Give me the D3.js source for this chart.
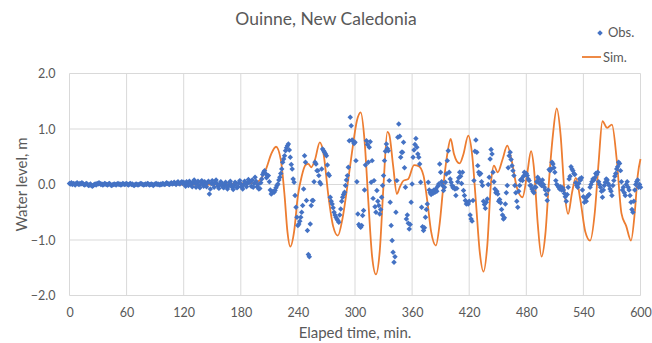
<!DOCTYPE html>
<html>
<head>
<meta charset="utf-8">
<script src="https://cdn.jsdelivr.net/npm/d3@7/dist/d3.min.js"></script>
<style>
  html, body { margin: 0; padding: 0; background: #fff; }
  svg { display: block; font-family: Lato, "Open Sans", sans-serif; }
</style>
</head>
<body>
<svg id="chart" width="652" height="343"></svg>
<script>
// Observed water level (m), one reading per minute, 0 … 600 min
const obsEarly = [
  0.02,0.01,0.03,0.00,0.02,0.01,-0.01,0.02,0.03,0.01,
  0.00,0.02,0.01,0.03,0.02,0.00,-0.01,0.01,0.02,0.00,
  -0.02,-0.01,0.01,-0.02,-0.03,-0.02,0.00,0.01,-0.01,0.02,
  0.01,0.03,0.02,0.00,0.01,-0.01,0.00,0.02,0.01,0.00,
  -0.01,0.01,0.02,0.00,-0.02,-0.01,0.00,0.01,0.00,-0.01,
  0.01,0.02,0.00,0.01,-0.01,0.00,0.02,0.01,0.00,0.01,
  0.02,0.00,-0.01,0.01,0.02,0.00,0.01,-0.01,-0.02,0.00,
  0.01,0.00,-0.01,0.00,0.01,0.02,0.01,0.00,-0.01,0.00,
  0.01,0.00,0.02,0.01,-0.01,0.00,0.01,0.00,-0.02,0.00,
  0.01,0.02,0.00,0.01,0.00,-0.01,0.01,0.00,0.02,0.01,
  0.00,0.01,0.03,0.02,0.01,0.00,0.02,0.03,0.01,0.02,
  0.04,0.02,0.00,0.03,0.05,0.02,0.01,0.03,0.05,0.02,
  0.04,0.01,-0.03,0.05,0.02,-0.02,0.06,0.03,0.00,-0.04,
  0.05,0.08,0.02,-0.05,0.03,0.06,-0.02,-0.06,0.04,0.07,
  0.00,-0.03,0.05,0.02,-0.04,0.03,0.06,-0.17,-0.08,0.02,
  0.07,0.01,-0.05,0.03,0.08,0.02,-0.03,-0.07,0.00,0.05,
  0.02,-0.04,-0.06,0.01,0.04,-0.02,-0.08,-0.03,0.03,0.06,
  0.00,-0.05,-0.09,-0.02,0.04,0.02,-0.06,-0.04,0.03,0.07,
  0.01,-0.05,-0.08,0.00,0.06,0.03,-0.04,0.02,0.09,0.04
];
const obsLate = [
  0.05,-0.03,0.08,-0.05,0.02,0.13,0.06,-0.04,0.00,-0.08,
  -0.07,0.03,0.10,0.18,0.22,0.25,0.20,0.12,0.16,0.16,
  0.05,-0.10,-0.17,-0.15,-0.12,-0.14,-0.11,-0.06,-0.02,0.01,
  0.08,0.13,0.20,0.28,0.40,0.46,0.52,0.61,0.66,0.70,
  0.73,0.62,0.49,0.36,0.28,0.10,0.04,-0.20,-0.41,-0.59,
  -0.74,-0.71,-0.66,-0.59,-0.50,-0.38,-0.08,0.52,0.40,-0.29,
  -0.83,-1.26,-1.30,-0.71,-0.38,-0.29,-0.29,0.05,0.40,0.37,
  0.25,0.25,0.16,0.04,0.01,0.28,0.64,0.61,0.58,0.55,
  0.52,0.35,0.19,0.16,-0.23,-0.30,-0.35,-0.42,-0.50,-0.55,
  -0.59,-0.62,-0.65,-0.68,-0.55,-0.44,-0.30,-0.23,-0.18,-0.14,
  -0.02,0.08,0.16,0.31,0.79,1.21,1.06,0.80,0.78,0.74,
  0.76,0.43,0.05,-0.53,-0.72,-0.75,-0.77,-0.74,-0.56,-0.47,
  -0.10,0.35,0.79,0.72,0.40,0.67,0.77,0.04,0.43,-0.25,
  0.07,-0.40,-0.50,-0.11,-0.30,-0.38,-0.53,-0.45,-0.23,-0.02,
  0.16,0.43,0.60,0.73,0.65,0.61,0.07,-0.32,-0.74,-1.01,
  -1.22,-1.40,-1.30,-0.50,0.07,0.85,1.09,0.87,0.49,0.58,
  0.58,0.76,0.30,-0.05,-0.62,-0.55,-0.70,-0.80,-0.72,-0.32,
  0.01,0.49,0.62,0.72,0.83,0.67,0.55,0.49,0.37,0.04,
  -0.41,-0.76,-0.83,-0.78,-0.59,-0.45,-0.35,0.04,-0.10,-0.15,
  -0.18,-0.12,-0.16,-0.10,-0.14,-0.08,-0.12,-0.03,0.01,0.37,
  0.22,0.05,-0.02,-0.11,-0.05,0.04,0.19,0.43,0.61,0.22,
  0.10,0.04,-0.02,-0.06,-0.05,-0.08,-0.20,-0.07,0.05,0.12,
  0.22,0.15,0.02,0.22,-0.11,-0.20,-0.29,-0.35,-0.33,-0.35,
  -0.30,-0.55,-0.62,-0.66,-0.29,0.07,0.60,0.80,0.58,0.34,
  0.22,0.18,0.20,0.05,-0.02,-0.30,-0.36,-0.43,-0.32,-0.26,
  0.00,0.13,0.46,0.63,0.55,0.22,0.05,-0.08,-0.15,-0.12,
  -0.17,-0.30,-0.27,-0.33,-0.45,-0.55,-0.62,-0.60,-0.35,-0.15,
  -0.02,0.30,0.52,0.58,0.45,0.34,0.25,0.16,-0.02,-0.15,
  -0.30,-0.41,-0.12,-0.02,0.08,0.10,0.07,0.15,0.22,0.18,
  0.20,0.16,0.10,0.07,-0.02,-0.02,-0.08,-0.12,-0.15,-0.05,
  -0.05,0.05,0.13,0.10,0.02,0.04,-0.02,0.08,0.00,-0.05,
  -0.10,-0.18,-0.29,-0.10,0.27,0.25,0.28,0.40,0.37,0.30,
  0.22,0.07,0.00,-0.02,-0.05,-0.08,-0.04,-0.10,-0.06,-0.10,
  -0.16,-0.22,-0.30,-0.18,-0.05,0.10,0.15,0.32,0.28,0.25,
  0.20,0.18,0.03,-0.02,-0.05,0.02,0.10,0.08,0.12,-0.10,
  -0.22,-0.32,-0.25,-0.30,-0.22,-0.20,-0.18,-0.05,0.00,0.05,
  0.10,0.08,0.12,0.20,0.18,0.22,0.05,0.00,-0.05,-0.12,
  -0.23,-0.10,-0.02,0.04,0.10,0.08,0.02,-0.02,-0.08,-0.12,
  -0.20,-0.02,0.07,0.15,0.20,0.28,0.32,0.40,0.38,0.25,
  0.05,-0.10,-0.05,-0.15,-0.20,0.00,0.05,-0.05,-0.10,-0.20,
  -0.32,-0.45,-0.50,-0.30,-0.10,0.00,0.05,0.08,-0.05,0.00,
  -0.05
];
const obsLevel = obsEarly.concat(obsLate);

// Simulated water level: time (min) and level (m) at the turning points
const simTime = [0,60,120,150,180,195,200,207,212,217,222,226,229,232,236,240,244,248,251,254,
  258,263,267,272,277,282,287,293,297,302,306,310,314,318,322,326,330,334,336,340,
  344,347,351,356,362,367,372,376,380,385,389,393,397,400.5,404,407,410,414,419,423,
  427,431,435,439,443,446,450,455,460,465,470,476,481,485,488,492,496,500,504,508,
  512,516,520,524,528,532,537,542,547,552,556,560,565,570,575,580,585,590,594,597,600];
const simLevel = [0,0,0,0,0.02,0.03,0.08,0.3,0.55,0.68,0.45,-0.2,-0.85,-1.12,-0.85,-0.2,0.15,0.35,0.37,0.31,
  0.45,0.76,0.55,-0.2,-0.75,-0.92,-0.6,0.1,0.6,1.15,1.30,0.8,-0.3,-1.3,-1.62,-1.2,0.0,0.95,0.9,0.35,
  -0.17,-0.05,0.07,0.10,0.35,0.33,0.16,-0.3,-0.85,-1.10,-0.7,0.0,0.55,0.82,0.55,0.42,0.38,0.55,0.88,0.55,
  -0.3,-1.2,-1.57,-1.1,0.05,0.34,0.22,0.45,0.70,0.40,-0.05,-0.23,0.2,0.60,0.3,-0.7,-1.30,-0.9,0.1,0.9,
  1.37,0.9,-0.1,-0.53,-0.15,0.12,-0.3,-0.85,-1.01,-0.5,0.4,1.14,1.02,1.08,0.45,-0.52,-0.75,-1.01,-0.5,0.15,0.46];

const xTicks = [0,60,120,180,240,300,360,420,480,540,600];
const yTicks = [-2,-1,0,1,2];

const svg = d3.select("#chart");

const x = d3.scaleLinear().domain([0, 600]).range([69.5, 640.5]);
const y = d3.scaleLinear().domain([-2, 2]).range([295.5, 73.5]);

const textColor = "#595959";
const gridColor = "#d9d9d9";
const blue = "#4472C4";
const orange = "#ED7D31";

// grid
const grid = svg.append("g");
grid.selectAll("line.h").data(yTicks).join("line")
  .attr("x1", x(0)).attr("x2", x(600))
  .attr("y1", d => y(d)).attr("y2", d => y(d))
  .attr("stroke", gridColor).attr("stroke-width", 1);
grid.selectAll("line.v").data(xTicks).join("line")
  .attr("y1", y(2)).attr("y2", y(-2))
  .attr("x1", d => x(d)).attr("x2", d => x(d))
  .attr("stroke", gridColor).attr("stroke-width", 1);

// axes (labels only)
const yAxis = d3.axisLeft(y).tickValues(yTicks).tickFormat(d3.format(".1f")).tickSize(0).tickPadding(14);
const gy = svg.append("g").attr("transform", `translate(${x(0)},0)`).call(yAxis);
gy.select(".domain").remove();
gy.selectAll("text").attr("fill", textColor).style("font-size", "12.5px").style("font-family", "Lato, sans-serif");

const xAxis = d3.axisBottom(x).tickValues(xTicks).tickFormat(d3.format("d")).tickSize(0).tickPadding(13);
const gx = svg.append("g").attr("transform", `translate(0,${y(-2)})`).call(xAxis);
gx.select(".domain").remove();
gx.selectAll("text").attr("fill", textColor).style("font-size", "12.5px").style("font-family", "Lato, sans-serif");

// simulated line
const simData = simTime.map((t, i) => [t, simLevel[i]]);
const line = d3.line().x(d => x(d[0])).y(d => y(d[1])).curve(d3.curveMonotoneX);
svg.append("path").datum(simData)
  .attr("d", line).attr("fill", "none")
  .attr("stroke", orange).attr("stroke-width", 1.8).attr("stroke-linejoin", "round");

// observed markers: small square turned 45°
const marker = d3.symbol().type(d3.symbolSquare).size(15);
svg.append("g").selectAll("path").data(obsLevel).join("path")
  .attr("d", marker)
  .attr("transform", (d, i) => `translate(${x(i)},${y(d)}) rotate(45)`)
  .attr("fill", blue);

// title
svg.append("text").attr("x", 326).attr("y", 25).attr("text-anchor", "middle")
  .attr("fill", textColor).style("font-size", "17.5px").text("Ouinne, New Caledonia");

// axis titles
svg.append("text").attr("x", 355).attr("y", 338).attr("text-anchor", "middle")
  .attr("fill", textColor).style("font-size", "15px").text("Elaped time, min.");
svg.append("text").attr("transform", `translate(27,${y(0)}) rotate(-90)`).attr("text-anchor", "middle")
  .attr("fill", textColor).style("font-size", "15px").text("Water level, m");

// legend
svg.append("path").attr("d", marker).attr("transform", "translate(600,33) rotate(45)").attr("fill", blue);
svg.append("text").attr("x", 608).attr("y", 37).attr("fill", textColor).style("font-size", "13px").text("Obs.");
svg.append("line").attr("x1", 582).attr("x2", 601).attr("y1", 57).attr("y2", 57)
  .attr("stroke", orange).attr("stroke-width", 1.8);
svg.append("text").attr("x", 603).attr("y", 61.5).attr("fill", textColor).style("font-size", "13px").text("Sim.");
</script>
</body>
</html>
